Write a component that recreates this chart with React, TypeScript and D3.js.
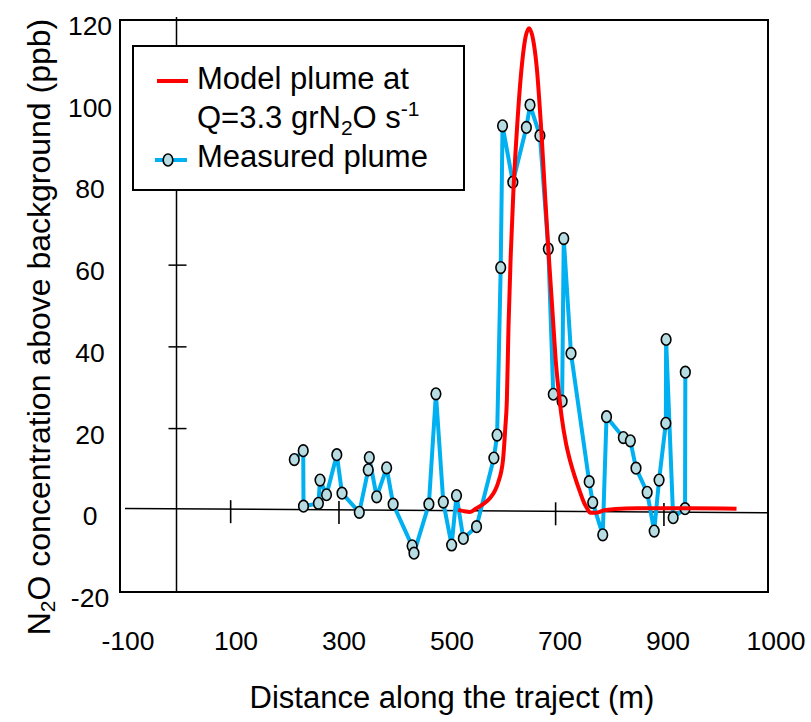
import React from 'react';
import * as d3 from 'd3';

// Measured plume (distance m, N2O ppb) in path order
const measuredX = [217.5, 234, 234.5, 262, 265, 277, 296, 305.6, 337.5, 354, 356, 369.6, 388, 400, 435, 438.5, 466, 479, 492.6, 508, 517, 529.6, 554, 586, 592, 598.6, 602, 621, 646, 652.7, 671, 686.5, 695.7, 712, 715, 728.4, 762, 768.5, 787, 794, 825, 838, 848.4, 869, 882, 891, 903.5, 904, 917, 939, 939.5];
const measuredY = [12.4, 14.6, 1.0, 1.7, 7.4, 3.8, 13.6, 4.2, -0.5, 9.9, 12.9, 3.3, 10.4, 1.5, -8.7, -10.5, 1.5, 28.5, 2.0, -8.5, 3.6, -6.9, -4.0, 12.8, 18.4, 59.4, 94.1, 80.3, 93.7, 99.2, 91.7, 64.0, 28.4, 26.7, 66.5, 38.4, 7.0, 1.9, -6.0, 22.9, 17.8, 17.0, 10.3, 4.4, -5.1, 7.4, 21.3, 41.8, -1.8, 0.4, 33.8];

// Model plume
const modelX = [520, 530, 542, 554, 566, 579, 588, 594, 603, 607, 610, 613, 617, 622, 628, 637, 644, 651, 658, 665, 674, 681, 686.5, 692, 696, 700, 705, 711, 719, 727, 736, 745, 752, 758, 764, 775, 790, 810, 850, 950, 1034];
const modelY = [0.1, -0.2, -0.4, 0.5, 1.5, 3.0, 4.8, 6.8, 12.5, 20, 27, 45, 62, 78, 92, 108, 115.5, 118, 115.5, 108.6, 92, 76, 64, 53, 45, 37, 30, 23, 16.5, 12, 8, 4.5, 2, 0.5, -0.6, -0.6, 0, 0.3, 0.5, 0.5, 0.4];

const xTickLabels = ['-100', '100', '300', '500', '700', '900', '1000'];
const yTickLabels = [120, 100, 80, 60, 40, 20, 0, -20];
const xAxisTicks = [100, 300, 700, 900];
const yAxisTicks = [20, 40, 60, 80, 100];

const FONT = "'Liberation Sans', Arial, Helvetica, sans-serif";

export default function App() {
  const W = 811;
  const H = 722;
  const x = d3.scaleLinear().domain([0, 1000]).range([176.5, 718.1]);
  const y = d3.scaleLinear().domain([-20, 120]).range([592, 20]);
  const frameL = 120, frameR = 768, frameT = 20, frameB = 592;
  const xLabel = d3.scalePoint<string>().domain(xTickLabels).range([128, 776]);
  // baseline is drawn slightly tilted, as in the original figure
  const baseY = d3.scaleLinear().domain([125, frameR]).range([y(0) - 1.8, y(0) + 2.4]);

  const pts = measuredX.map((d, i) => [d, measuredY[i]] as [number, number]);
  const model = modelX.map((d, i) => [d, modelY[i]] as [number, number]);

  const blueLine = d3.line<[number, number]>().x(d => x(d[0])).y(d => y(d[1]));
  const redLine = d3.line<[number, number]>().x(d => x(d[0])).y(d => y(d[1])).curve(d3.curveMonotoneX);

  const blue = '#00b0f0';
  const markerFill = '#b7dde3';

  return (
    <svg width={W} height={H} style={{ position: 'absolute', left: 0, top: 0, background: '#fff' }} fontFamily={FONT}>
      <rect x={0} y={0} width={W} height={H} fill="#fff" />
      {/* frame */}
      <rect x={frameL} y={frameT} width={frameR - frameL} height={frameB - frameT} fill="none" stroke="#000" strokeWidth={2} />
      {/* inner axes */}
      <line x1={x(0)} x2={x(0)} y1={17} y2={frameB} stroke="#000" strokeWidth={1.5} />
      <line x1={125} x2={frameR} y1={baseY(125)} y2={baseY(frameR)} stroke="#000" strokeWidth={1.5} />
      {xAxisTicks.map(t => (
        <line key={'xt' + t} x1={x(t)} x2={x(t)} y1={baseY(x(t)) - 9} y2={baseY(x(t)) + 14} stroke="#000" strokeWidth={1.6} />
      ))}
      {yAxisTicks.map(t => (
        <line key={'yt' + t} x1={x(0) - 8} x2={x(0) + 10} y1={y(t)} y2={y(t)} stroke="#000" strokeWidth={1.5} />
      ))}
      {/* tick labels */}
      {yTickLabels.map(v => (
        <text key={'yl' + v} x={90} y={y(v) + 6} fontSize={26.5} textAnchor="middle" dominantBaseline="central" fill="#000">{v}</text>
      ))}
      {xTickLabels.map(l => (
        <text key={'xl' + l} x={xLabel(l)} y={641} fontSize={26.5} textAnchor="middle" dominantBaseline="central" fill="#000">{l}</text>
      ))}
      {/* axis titles */}
      <text x={452} y={697} fontSize={31} textAnchor="middle" dominantBaseline="central" fill="#000">Distance along the traject (m)</text>
      <text transform="translate(39,327) rotate(-90)" fontSize={32} textAnchor="middle" dominantBaseline="central" fill="#000">
        N<tspan fontSize={21} dy={8}>2</tspan><tspan dy={-8}>O concentration above background (ppb)</tspan>
      </text>
      {/* measured */}
      <path d={blueLine(pts) || ''} fill="none" stroke={blue} strokeWidth={4} strokeLinejoin="round" />
      {pts.map((p, i) => (
        <ellipse key={'m' + i} cx={x(p[0])} cy={y(p[1])} rx={4.8} ry={5.8} fill={markerFill} stroke="#000" strokeWidth={1.6} />
      ))}
      {/* model */}
      <path d={redLine(model) || ''} fill="none" stroke="#ff0000" strokeWidth={4} strokeLinejoin="round" />
      {/* legend */}
      <rect x={133} y={46} width={331} height={144} fill="#fff" stroke="#000" strokeWidth={2} />
      <line x1={157} x2={188} y1={81} y2={81} stroke="#ff0000" strokeWidth={4} />
      <text x={197} y={89} fontSize={31} fill="#000">Model plume at</text>
      <text x={197} y={128} fontSize={31} fill="#000">
        Q=3.3 grN<tspan fontSize={21} dy={7}>2</tspan><tspan dy={-7}>O s</tspan><tspan fontSize={21} dy={-12}>-1</tspan>
      </text>
      <line x1={155} x2={187} y1={160} y2={160} stroke={blue} strokeWidth={4} />
      <ellipse cx={168} cy={160} rx={4.8} ry={6} fill={markerFill} stroke="#000" strokeWidth={1.6} />
      <text x={197} y={167} fontSize={31} fill="#000">Measured plume</text>
    </svg>
  );
}
